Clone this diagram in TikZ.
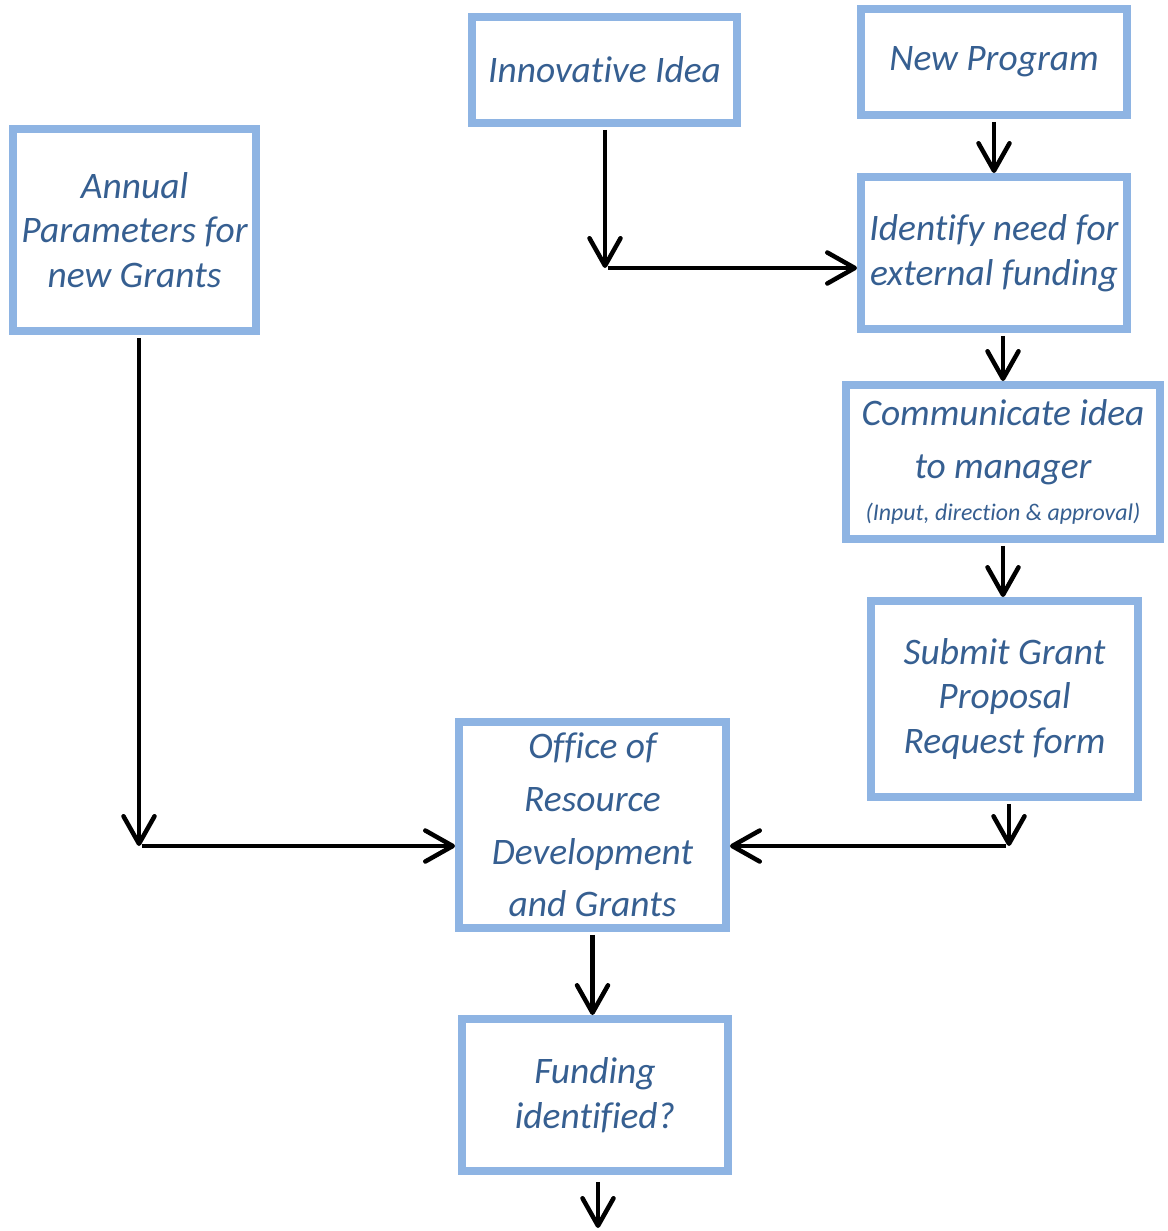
\documentclass[tikz,border=0pt]{standalone}
\usepackage{fontspec}
\setmainfont{Carlito}[Ligatures=NoCommon]
\usetikzlibrary{arrows.meta}
\definecolor{boxline}{HTML}{8EB4E3}
\definecolor{boxtext}{HTML}{365F91}

\begin{document}
\begin{tikzpicture}[x=0.02cm,y=-0.02cm,
    box/.style={draw=boxline,line width=0.16cm,fill=white,text=boxtext,
      align=center,inner sep=0pt,font=\itshape\fontsize{21.3}{25.5}\selectfont},
    loose/.style={font=\itshape\fontsize{21.3}{30}\selectfont},
    link/.style={line width=0.09cm,shorten <=0.06cm,
      -{Straight Barb[length=0.55cm,width=0.62cm,round]}}]
  \useasboundingbox (0,0) rectangle (1167,1231);

  % boxes
  \node (idea) at (604.5,70) [box,minimum width=5.30cm,minimum height=2.12cm]
    {Innovative Idea};
  \node (prog) at (994,62) [box,minimum width=5.32cm,minimum height=2.12cm]
    {New Program};
  \node (annual) at (134.5,230) [box,minimum width=4.86cm,minimum height=4.04cm]
    {Annual\\Parameters for\\new Grants};
  \node (ident) at (994,253) [box,minimum width=5.32cm,minimum height=3.04cm]
    {Identify need for\\external funding};
  \node (comm) at (1003,462) [box,loose,minimum width=6.28cm,minimum height=3.08cm]
    {Communicate idea\\to manager\\[-6pt]{\fontsize{13.6}{15}\selectfont (Input, direction \& approval)}};
  \node (submit) at (1004.5,699) [box,minimum width=5.34cm,minimum height=3.92cm]
    {Submit Grant\\Proposal\\Request form};
  \node (office) at (592.5,825) [box,loose,minimum width=5.34cm,minimum height=4.12cm]
    {Office of\\Resource\\Development\\and Grants};
  \node (fund) at (595,1095) [box,minimum width=5.32cm,minimum height=3.04cm]
    {Funding\\identified?};

  % corners of the elbow connectors
  \coordinate (j1) at (605,268);
  \coordinate (j2) at (139,846);
  \coordinate (j3) at (1009,846);
  \coordinate (out) at (598,1228);

  \draw[link] (j1 |- idea.south) -- (j1);
  \draw[link] (j1) -- (ident.west |- j1);
  \draw[link] (prog.south) -- (ident.north);
  \draw[link] (comm.north |- ident.south) -- (comm.north);
  \draw[link] (comm.south) -- (comm.south |- submit.north);
  \draw[link] (j2 |- annual.south) -- (j2);
  \draw[link] (j2) -- (office.west |- j2);
  \draw[link] (j3 |- submit.south) -- (j3);
  \draw[link] (j3) -- (office.east |- j3);
  \draw[link] (office.south) -- (office.south |- fund.north);
  \draw[link,shorten <=0.14cm] (out |- fund.south) -- (out);
\end{tikzpicture}
\end{document}
